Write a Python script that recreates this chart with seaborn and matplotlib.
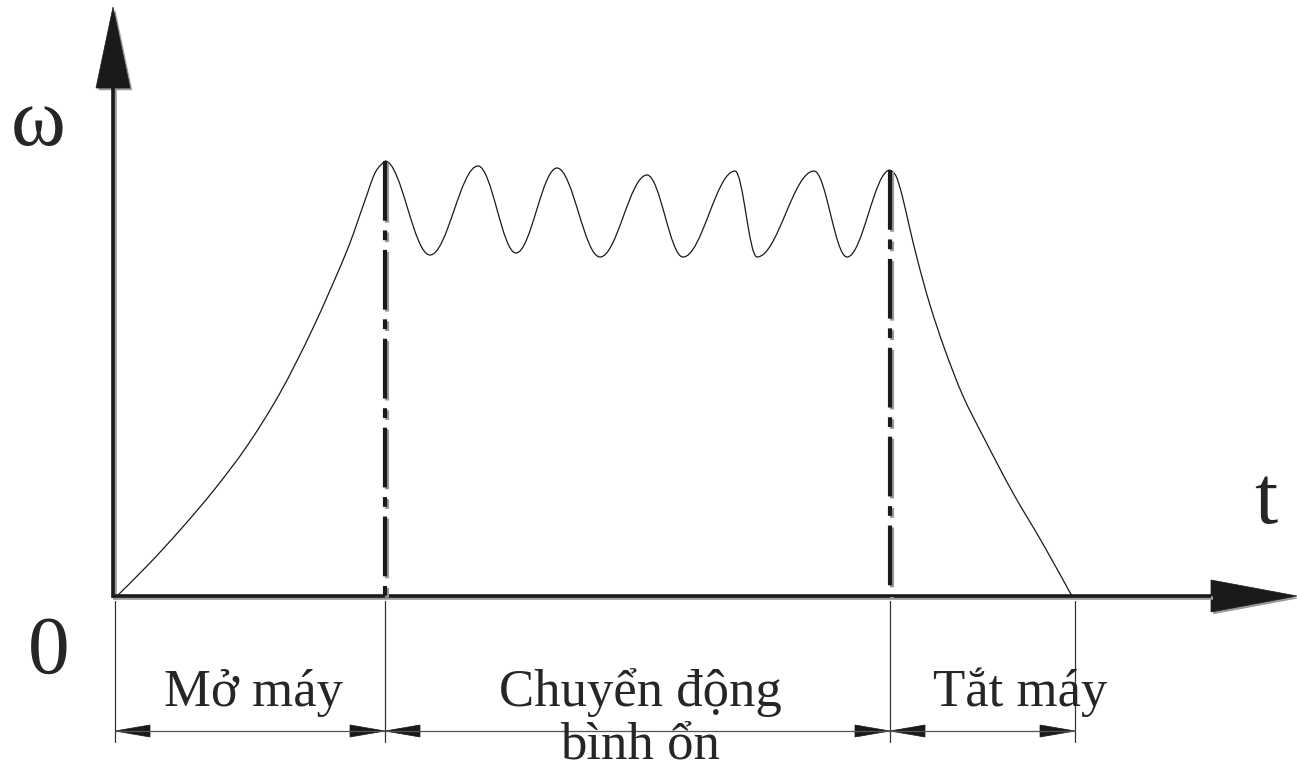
import numpy as np
import matplotlib
matplotlib.use("Agg")
import matplotlib.pyplot as plt
import matplotlib.patheffects as pe
from matplotlib.path import Path
from matplotlib.patches import PathPatch, Polygon
import seaborn as sns

sns.set_theme(style="white")
plt.rcParams['font.family'] = ['Liberation Serif', 'DejaVu Serif']
plt.rcParams['lines.scale_dashes'] = False

# --- data (t, omega) ---
# start-up phase: omega rises from 0 to the first peak
rise_t = [0.0, 0.33, 0.66, 0.99, 1.32, 1.65, 1.98, 2.31, 2.48, 2.60, 2.70]
rise_w = [0.0, 0.33, 0.69, 1.08, 1.52, 2.05, 2.70, 3.45, 3.92, 4.25, 4.37]

# steady phase: peaks / troughs of the oscillation
wave_t = [2.70, 3.15, 3.63, 4.01, 4.42, 4.85, 5.32, 5.68, 6.20, 6.42, 6.99, 7.32, 7.75]
wave_w = [4.37, 3.43, 4.32, 3.45, 4.30, 3.41, 4.23, 3.41, 4.27, 3.41, 4.27, 3.41, 4.28]

# shut-down phase: omega decays to 0
fall_t = [7.75, 7.81, 7.87, 7.94, 8.03, 8.15, 8.30, 8.48, 8.70, 8.98, 9.28, 9.58]
fall_w = [4.28, 4.22, 4.03, 3.73, 3.36, 2.93, 2.48, 2.02, 1.58, 1.05, 0.54, 0.0]

# phase boundaries and labels
bounds = [0.0, 2.70, 7.75, 9.60]
phase_labels = ["Mở máy", "Chuyển động\nbình ổn", "Tắt máy"]
label_t = [1.39, 5.25, 9.05]


def smooth(ts, ws):
    # catmull-rom through the read points, drawn as bezier pieces
    p = np.column_stack([ts, ws])
    verts, codes = [p[0]], [Path.MOVETO]
    for i in range(len(p) - 1):
        p0 = p[i - 1] if i > 0 else p[i]
        p3 = p[i + 2] if i + 2 < len(p) else p[i + 1]
        verts += [p[i] + (p[i + 1] - p0) / 6, p[i + 1] - (p3 - p[i]) / 6, p[i + 1]]
        codes += [Path.CURVE4] * 3
    return Path(verts, codes)


def wave(ts, ws):
    verts, codes = [(ts[0], ws[0])], [Path.MOVETO]
    for i in range(1, len(ts)):
        d = (ts[i] - ts[i - 1]) * 0.364
        verts += [(ts[i - 1] + d, ws[i - 1]), (ts[i] - d, ws[i]), (ts[i], ws[i])]
        codes += [Path.CURVE4] * 3
    return Path(verts, codes)


fig = plt.figure(figsize=(12.97, 7.71), dpi=100)
ax = fig.add_axes([0, 0, 1, 1])

shadow = [pe.SimpleLineShadow(offset=(1.6, -1.6), shadow_color='#9a9a9a', alpha=1.0), pe.Normal()]
pshadow = [pe.SimplePatchShadow(offset=(1.6, -1.6), shadow_rgbFace='#9a9a9a', alpha=1.0), pe.Normal()]

# curve
for path in [smooth(rise_t, rise_w), wave(wave_t, wave_w), smooth(fall_t, fall_w)]:
    ax.add_patch(PathPatch(path, fill=False, color='k', lw=0.9))

# axes with arrows
y_tip, y_base, x_tip, x_base = 5.91, 5.10, 11.82, 10.96
ax.plot([-0.02, -0.02], [0, y_base], color='k', lw=2.6, path_effects=shadow, solid_capstyle='butt')
ax.plot([-0.02, x_base], [0.02, 0.02], color='k', lw=2.6, path_effects=shadow, solid_capstyle='butt')
ax.add_patch(Polygon([(-0.02, y_tip), (-0.19, y_base), (0.15, y_base)], closed=True,
                     fc='k', ec='k', lw=0.5, path_effects=pshadow))
ax.add_patch(Polygon([(x_tip, 0.02), (x_base, 0.18), (x_base, -0.14)], closed=True,
                     fc='k', ec='k', lw=0.5, path_effects=pshadow))

# dash-dot boundaries
for b, top in [(bounds[1], wave_w[0]), (bounds[2], wave_w[-1])]:
    ax.plot([b, b], [top, 0.02], color='k', lw=3, linestyle=(0, (43, 7, 7, 7)),
            path_effects=shadow, dash_capstyle='butt')

# dimension lines
yd = -1.33
for b in bounds:
    ax.plot([b, b], [-0.03, -1.44], color='#333333', lw=0.9)
sns.lineplot(x=[bounds[0], bounds[-1]], y=[yd, yd], ax=ax, color='#555555', lw=0.9)
L, h = 0.35, 0.06
for i in range(len(bounds) - 1):
    a, c = bounds[i], bounds[i + 1]
    ax.add_patch(Polygon([(a, yd), (a + L, yd + h), (a + L, yd - h)], closed=True, fc='k', ec='k', lw=0.5))
    ax.add_patch(Polygon([(c, yd), (c - L, yd + h), (c - L, yd - h)], closed=True, fc='k', ec='k', lw=0.5))

# texts
for tx, lab in zip(label_t, phase_labels):
    lines = lab.split('\n')
    ax.text(tx, -1.08, lines[0], ha='center', va='baseline', fontsize=38)
    if len(lines) > 1:
        ax.text(tx, -1.61, lines[1], ha='center', va='baseline', fontsize=38)

ax.text(-0.77, 4.53, "ω", ha='center', va='baseline', fontsize=60, fontfamily='Liberation Serif')
ax.text(-0.66, -0.75, "0", ha='center', va='baseline', fontsize=60, fontfamily='Liberation Serif')
ax.text(11.51, 0.75, "t", ha='center', va='baseline', fontsize=60, fontfamily='Liberation Serif')

ax.set_xlim(-1.15, 11.82)
ax.set_ylim(-1.73, 5.98)
ax.axis('off')
fig.savefig("out.png", dpi=100, facecolor='white')
